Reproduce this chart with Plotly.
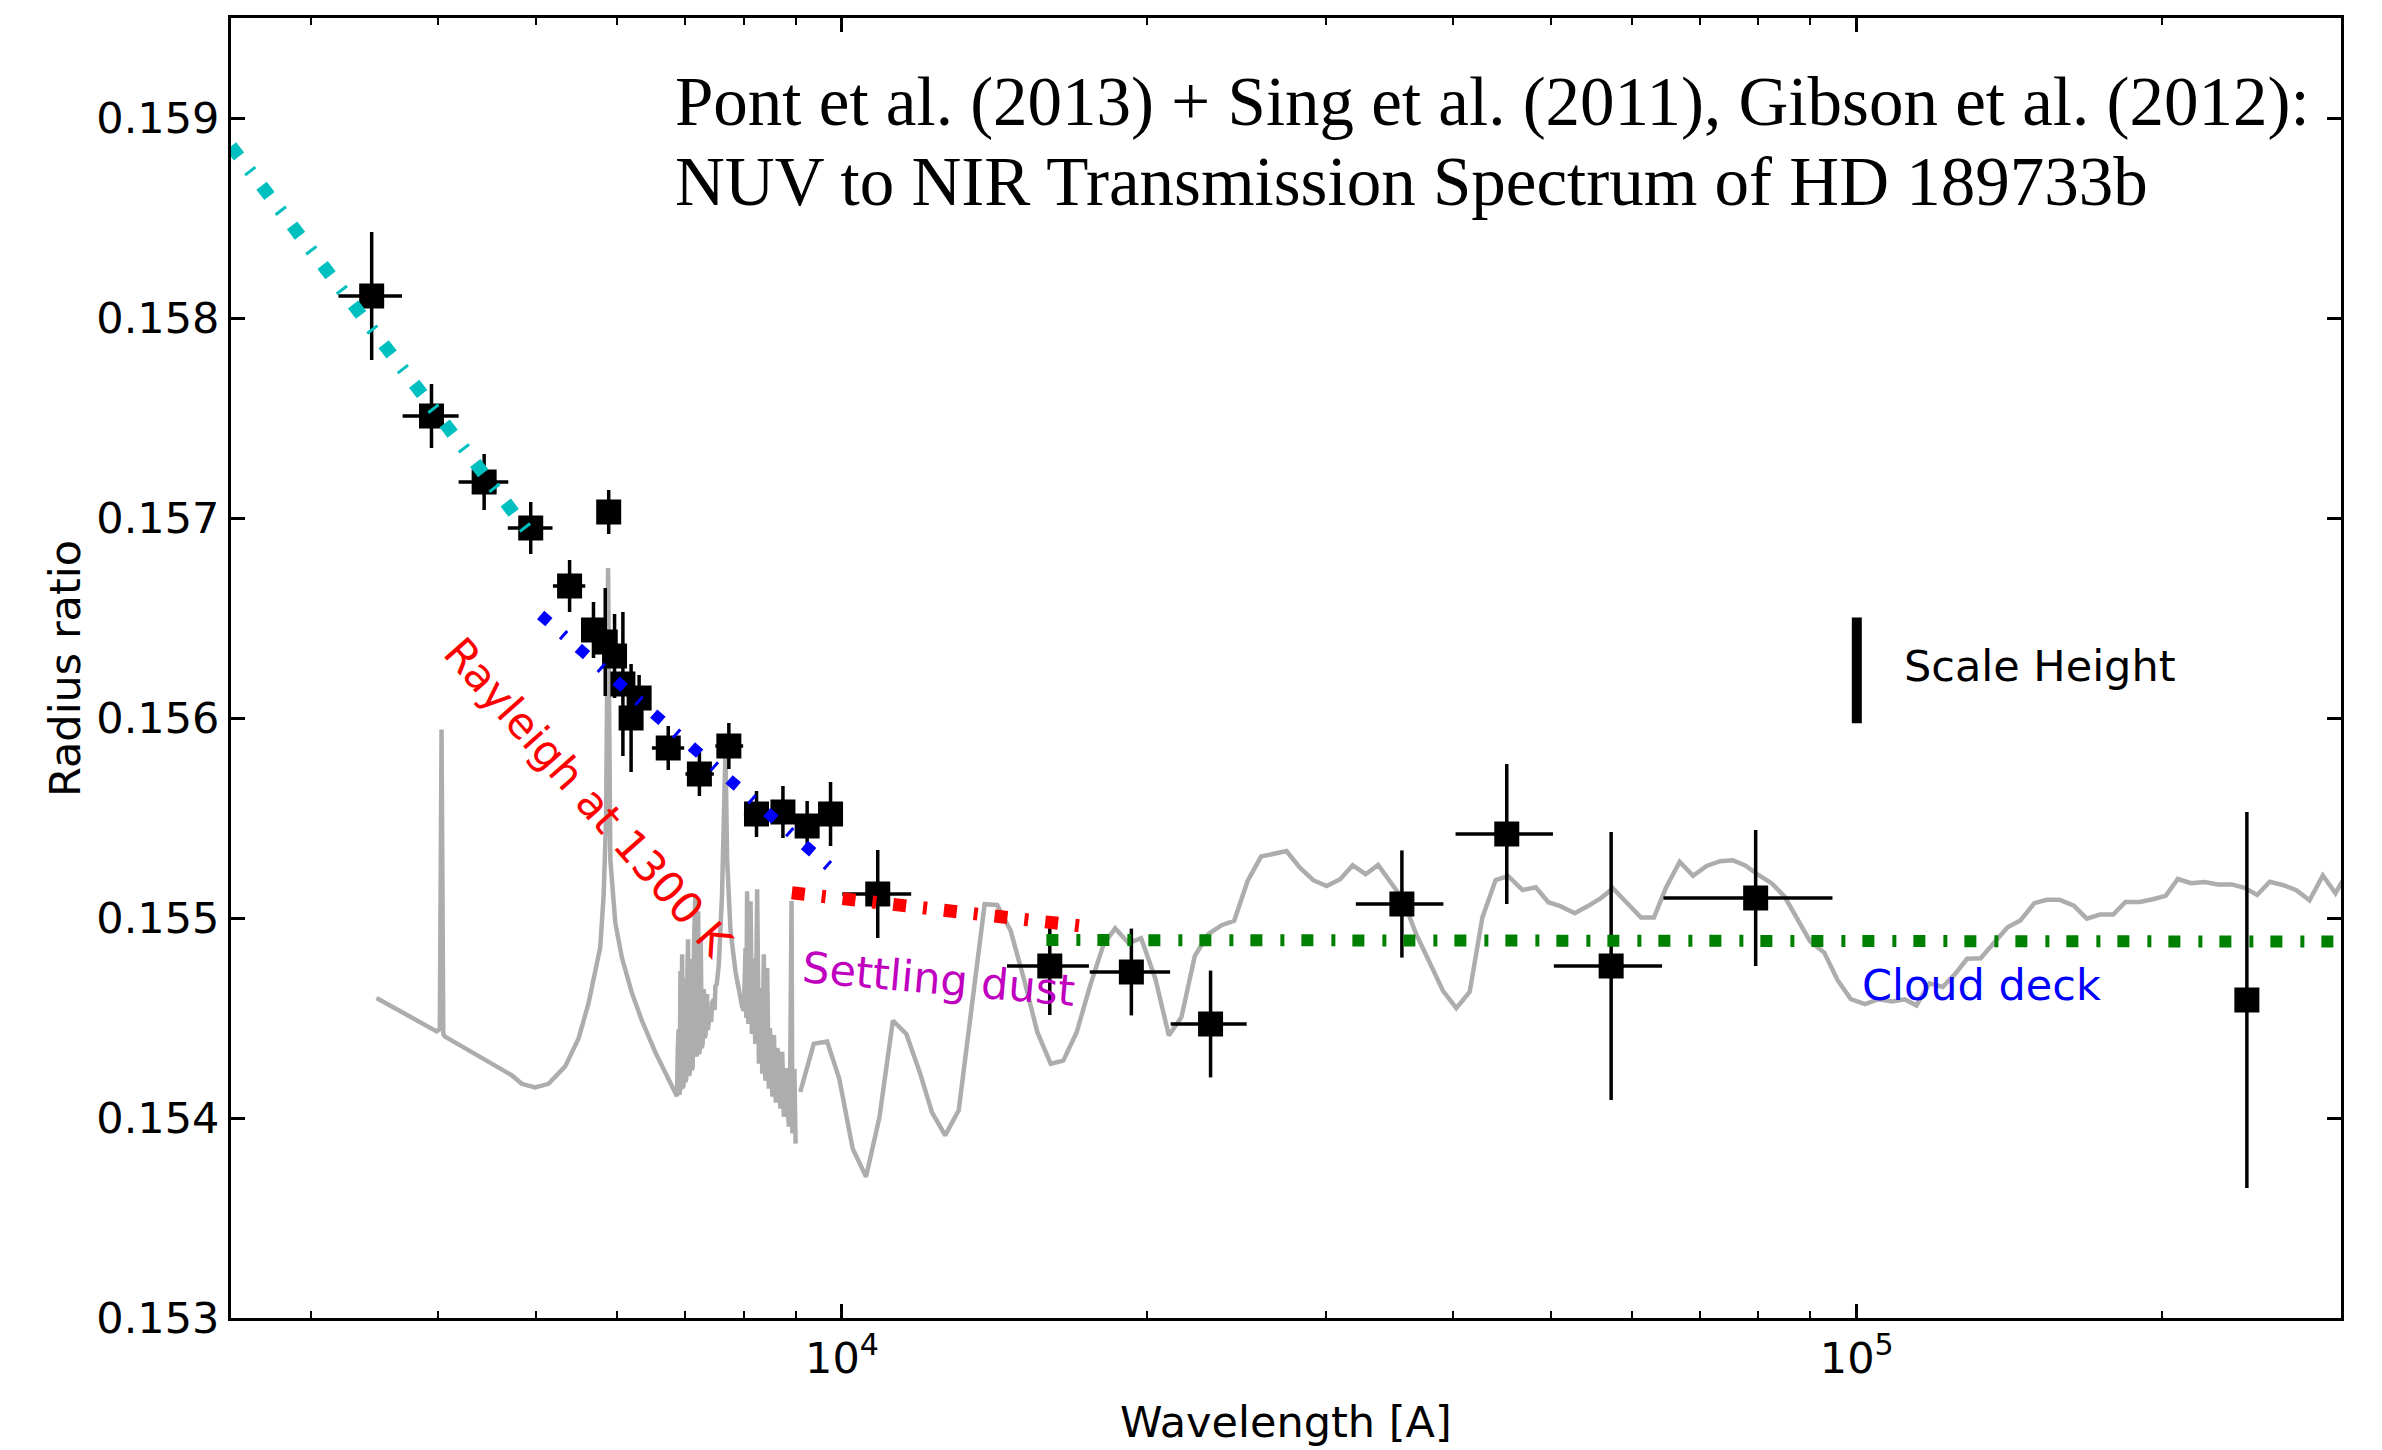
import math
import plotly.graph_objects as go

# ---------------- data points (wavelength in Angstrom, radius ratio) ----------------
wl = [3440, 3940, 4440, 4935, 5890, 5390, 5690, 5844, 5969, 6083, 6311, 6197,
      6742, 7236, 7736, 8237, 8746, 9240, 9744, 10845, 16024, 19282, 23078,
      35623, 45194, 57271, 79493, 242300]
wl_err_minus = [250, 250, 250, 250, 50, 200, 50, 40, 40, 40, 50, 50,
                245, 226, 233, 232, 246, 250, 250, 838, 1481, 1738, 1996,
                3536, 4958, 6981, 15002, 0]
wl_err_plus = [245, 250, 250, 250, 50, 195, 50, 40, 40, 40, 50, 50,
               248, 241, 255, 233, 239, 250, 250, 855, 1487, 1773, 1970,
               3517, 4993, 7015, 15134, 0]
ratio = [0.15811, 0.15751, 0.15718, 0.15695, 0.15703, 0.15666, 0.15644, 0.15638,
         0.15631, 0.15617, 0.15610, 0.15600, 0.15585, 0.15572, 0.15586, 0.15552,
         0.15553, 0.15546, 0.15552, 0.15512, 0.15476, 0.15473, 0.15447, 0.15507,
         0.15542, 0.15476, 0.15510, 0.15459]
ratio_err = [0.00032, 0.00016, 0.00014, 0.00013, 0.00011, 0.00013, 0.00014, 0.00027,
             0.00021, 0.00036, 0.000115, 0.00027, 0.00011, 0.00011, 0.000115, 0.000115,
             0.00013, 0.000125, 0.00016, 0.00022, 0.000245, 0.000217, 0.000267, 0.000268,
             0.00035, 0.00067, 0.00034, 0.00094]

# ---------------- model spectrum (grey), high resolution part ----------------
model_hr_wl = [3478, 3986, 4015, 4031, 4047, 4063, 4726, 4835, 4984, 5138, 5336, 5501,
               5626, 5714, 5778, 5823, 5855, 5882, 5912, 5979, 6070, 6209, 6352, 6548,
               6748, 6877,
               6890, 6904, 6912, 6920, 6931, 6944, 6951, 6958, 6970, 6982, 6990, 6998,
               7010, 7023, 7038, 7052, 7066, 7080, 7096, 7112, 7127, 7150, 7171, 7193,
               7205, 7216, 7230, 7241, 7258, 7275, 7291, 7308, 7325, 7340, 7362, 7376,
               7391, 7417, 7432, 7447, 7475, 7490, 7504, 7527, 7561, 7617, 7665, 7677,
               7706, 7764, 7854, 7912, 7973, 8004, 8035, 8050, 8063, 8086, 8105, 8127,
               8151, 8170, 8187, 8215, 8232, 8249, 8282, 8300, 8318, 8346, 8360, 8375,
               8404, 8420, 8439, 8470, 8490, 8510, 8539, 8569, 8606, 8636, 8666, 8696,
               8732, 8764, 8800, 8831, 8865, 8890, 8919, 8935, 8976, 9001]
model_hr_r = [0.154600, 0.154433, 0.154445, 0.155942, 0.154420, 0.154407, 0.154214, 0.154171,
              0.154153, 0.154171, 0.154258, 0.154398, 0.154573, 0.154731, 0.154853, 0.155116,
              0.155493, 0.156750, 0.155291, 0.154976, 0.154801, 0.154625, 0.154486, 0.154328,
              0.154188, 0.154109,
              0.154350, 0.154445, 0.154120, 0.154126, 0.154735, 0.154141, 0.154600, 0.154819,
              0.154150, 0.154166, 0.154700, 0.154595, 0.154180, 0.154196, 0.154650, 0.154894,
              0.154210, 0.154226, 0.154795, 0.154240, 0.154256, 0.154900, 0.155119, 0.154306,
              0.154750, 0.155034, 0.154320, 0.154336, 0.154894, 0.154350, 0.154376, 0.154645,
              0.154400, 0.154420, 0.154620, 0.154440, 0.154475, 0.154520, 0.154480, 0.154575,
              0.154595, 0.154540, 0.154660, 0.154670, 0.154765, 0.155116, 0.155642, 0.155842,
              0.155291, 0.154941, 0.154731, 0.154635, 0.154556, 0.154535, 0.154850, 0.154500,
              0.155134, 0.154470, 0.154900, 0.155084, 0.154420, 0.154800, 0.154595, 0.154371,
              0.154700, 0.155144, 0.154271, 0.154650, 0.154595, 0.154221, 0.154600, 0.154819,
              0.154186, 0.154500, 0.154750, 0.154146, 0.154450, 0.154346, 0.154106, 0.154415,
              0.154076, 0.154350, 0.154296, 0.154046, 0.154331, 0.154006, 0.154250, 0.154096,
              0.153957, 0.154200, 0.155085, 0.153922, 0.154246, 0.153872]

# ---------------- model spectrum (grey), low resolution part ----------------
model_lr_wl = [9097, 9380, 9669, 9939, 10246, 10561, 10888, 11224, 11572, 11929, 12262,
               12639, 13032, 13435, 13822, 14220, 14663, 15111, 15578, 16059, 16522, 17033,
               17557, 18103, 18587, 19162, 19714, 20365, 20994, 21601, 22268, 22957, 23664,
               24348, 25102, 25879, 27416, 28264, 29135, 30033, 30969, 31861, 32810, 33754,
               34625, 35695, 36800, 37947, 39104, 40304, 41547, 42758, 44067, 45336, 46843,
               48270, 49660, 51034, 52737, 54379, 56010, 57494, 59422, 61285, 63111, 64854,
               66909, 68976, 71108, 73342, 75438, 77630, 79995, 82466, 84865, 87250, 89930,
               92880, 95720, 98647, 101880, 105030, 108430, 111530, 114490, 117930, 121520,
               125220, 128450, 132430, 136430, 140780, 144940, 149600, 153840, 158490,
               163620, 168530, 173660, 178950, 183950, 189990, 195770, 201550, 207170,
               213430, 220180, 226800, 234090, 241060, 248010, 255210, 263340, 271120,
               279310, 287890, 296320, 301420]
model_lr_r = [0.154130, 0.154371, 0.154382, 0.154196, 0.153847, 0.153706, 0.154005, 0.154487,
              0.154420, 0.154229, 0.154030, 0.153913, 0.154038, 0.154595, 0.155069, 0.155065,
              0.154936, 0.154695, 0.154429, 0.154271, 0.154287, 0.154429, 0.154661, 0.154869,
              0.154948, 0.154874, 0.154899, 0.154695, 0.154412, 0.154504, 0.154811, 0.154919,
              0.154964, 0.154986, 0.155185, 0.155307, 0.155335, 0.155252, 0.155189, 0.155160,
              0.155194, 0.155264, 0.155219, 0.155265, 0.155185, 0.155094, 0.154919, 0.154778,
              0.154636, 0.154549, 0.154631, 0.155002, 0.155190, 0.155210, 0.155140, 0.155154,
              0.155079, 0.155059, 0.155024, 0.155061, 0.155101, 0.155149, 0.155069, 0.155002,
              0.155002, 0.155151, 0.155281, 0.155211, 0.155260, 0.155284, 0.155289, 0.155263,
              0.155215, 0.155173, 0.155108, 0.155001, 0.154884, 0.154827, 0.154690, 0.154595,
              0.154570, 0.154594, 0.154583, 0.154593, 0.154563, 0.154673, 0.154655, 0.154725,
              0.154796, 0.154799, 0.154878, 0.154954, 0.154988, 0.155074, 0.155091, 0.155091,
              0.155062, 0.154997, 0.155017, 0.155017, 0.155080, 0.155080, 0.155094, 0.155111,
              0.155195, 0.155174, 0.155180, 0.155168, 0.155168, 0.155151, 0.155115, 0.155181,
              0.155164, 0.155139, 0.155088, 0.155213, 0.155124, 0.155191]

# ---------------- fitted curves ----------------
cyan_wl = [2500, 4920]
cyan_r = [0.158859, 0.156924]
blue_wl = [5047, 9709]
blue_r = [0.156515, 0.155258]
red_wl = [8925, 17776]
red_r = [0.155126, 0.154952]
green_wl = [15900, 300000]
green_r = [0.154890, 0.154882]

# scale height bar
scale_wl = [100000, 100000]
scale_r = [0.155974, 0.156503]

# axis settings
x_range = [2500, 300000]
y_range = [0.153, 0.1595]
y_ticks = [0.153, 0.154, 0.155, 0.156, 0.157, 0.158, 0.159]
y_ticktext = ["0.153", "0.154", "0.155", "0.156", "0.157", "0.158", "0.159"]
x_ticks = [1e4, 1e5]
x_ticktext = ["10<sup>4</sup>", "10<sup>5</sup>"]

FONT = "DejaVu Sans"
SERIF = "Liberation Serif"
GREY = "#adadad"

fig = go.Figure()

fig.add_trace(go.Scatter(x=model_hr_wl, y=model_hr_r, mode="lines",
                         line=dict(color=GREY, width=4.5), hoverinfo="skip"))
fig.add_trace(go.Scatter(x=model_lr_wl, y=model_lr_r, mode="lines",
                         line=dict(color=GREY, width=4.5), hoverinfo="skip"))

fig.add_trace(go.Scatter(
    x=wl, y=ratio, mode="markers",
    marker=dict(symbol="square", size=25, color="black"),
    error_y=dict(type="data", array=ratio_err, color="black", thickness=3.5, width=0),
    error_x=dict(type="data", array=wl_err_plus, arrayminus=wl_err_minus,
                 color="black", thickness=3.5, width=0),
))

fig.add_trace(go.Scatter(x=cyan_wl, y=cyan_r, mode="lines",
                         line=dict(color="#00bfbf", width=13, dash="13px,17px,3px,17px")))
fig.add_trace(go.Scatter(x=blue_wl, y=blue_r, mode="lines",
                         line=dict(color="#0000ff", width=11, dash="11px,18px,3px,18px")))
fig.add_trace(go.Scatter(x=red_wl, y=red_r, mode="lines",
                         line=dict(color="#ff0000", width=13, dash="13px,17px,4px,17px")))
fig.add_trace(go.Scatter(x=green_wl, y=green_r, mode="lines",
                         line=dict(color="#008000", width=12, dash="12px,18px,4px,17px")))
fig.add_trace(go.Scatter(x=scale_wl, y=scale_r, mode="lines",
                         line=dict(color="black", width=10)))

annotations = [
    dict(text="Pont et al. (2013) + Sing et al. (2011), Gibson et al. (2012):",
         x=0.2095, y=0.9356, xanchor="left", yanchor="middle",
         font=dict(family=SERIF, size=69, color="black")),
    dict(text="NUV to NIR Transmission Spectrum of HD 189733b",
         x=0.2095, y=0.8738, xanchor="left", yanchor="middle",
         font=dict(family=SERIF, size=69, color="black")),
    dict(text="Scale Height", x=0.7919, y=0.5015, xanchor="left", yanchor="middle",
         font=dict(family=FONT, size=43, color="black")),
    dict(text="Cloud deck", x=0.8294, y=0.2562, xanchor="center", yanchor="middle",
         font=dict(family=FONT, size=43, color="#0000ff")),
    dict(text="Settling dust", x=0.3351, y=0.2608, xanchor="center", yanchor="middle",
         textangle=5, font=dict(family=FONT, size=43, color="#bf00bf")),
    dict(text="Rayleigh at 1300 K", x=0.1692, y=0.4008, xanchor="center", yanchor="middle",
         textangle=48.5, font=dict(family=FONT, size=43, color="#ff0000")),
    dict(text="Radius ratio", x=-0.0787, y=0.5, xanchor="center", yanchor="middle",
         textangle=-90, font=dict(family=FONT, size=43, color="black")),
    dict(text="Wavelength [A]", x=0.5, y=-0.08, xanchor="center", yanchor="middle",
         font=dict(family=FONT, size=43, color="black")),
]
for a in annotations:
    a.update(xref="paper", yref="paper", showarrow=False)

fig.update_layout(
    width=2382, height=1450,
    margin=dict(l=231, r=41, t=18, b=132),
    paper_bgcolor="white", plot_bgcolor="white",
    showlegend=False,
    annotations=annotations,
    font=dict(family=FONT, size=43, color="black"),
)
fig.update_xaxes(
    type="log", range=[math.log10(x_range[0]), math.log10(x_range[1])],
    showgrid=False, zeroline=False, showline=True, linecolor="black", linewidth=3,
    mirror="ticks", ticks="inside", ticklen=14, tickwidth=2.5, tickcolor="black",
    tickvals=x_ticks, ticktext=x_ticktext,
    tickfont=dict(family=FONT, size=43, color="black"),
    minor=dict(ticks="inside", ticklen=7, tickwidth=2, tickcolor="black",
               dtick="D1", showgrid=False),
)
fig.update_yaxes(
    range=y_range, showgrid=False, zeroline=False, showline=True, linecolor="black",
    linewidth=3, mirror="ticks", ticks="inside", ticklen=14, tickwidth=2.5,
    tickcolor="black", tickvals=y_ticks, ticktext=y_ticktext,
    tickfont=dict(family=FONT, size=43, color="black"),
)

fig.write_html("out.html")
